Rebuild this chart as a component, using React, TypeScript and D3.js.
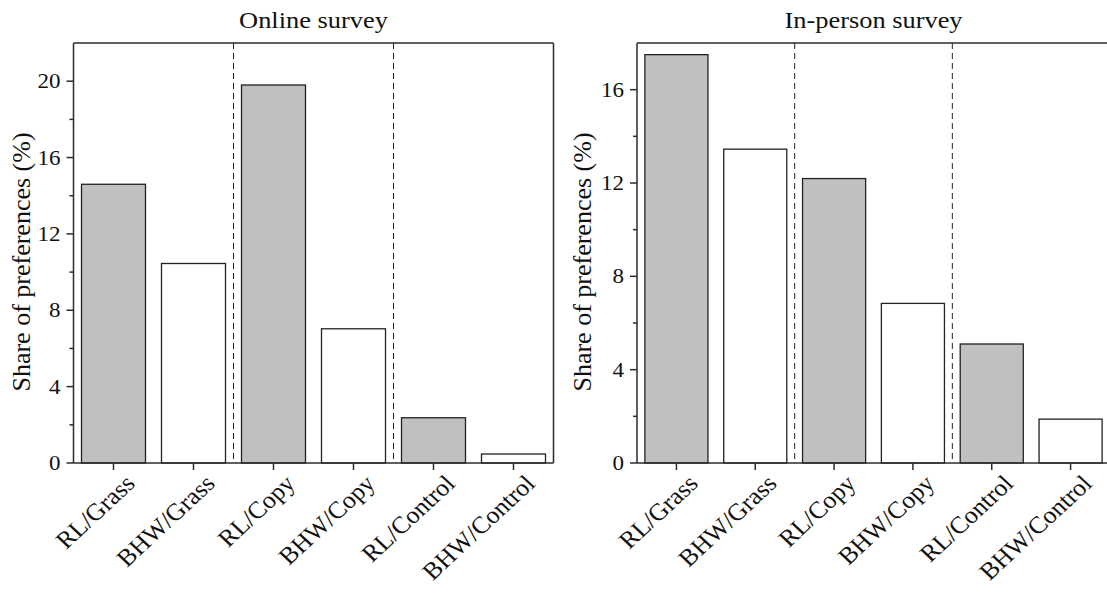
import React from "react";
import * as d3 from "d3";

const categories = ["RL/Grass", "BHW/Grass", "RL/Copy", "BHW/Copy", "RL/Control", "BHW/Control"];
const onlineValues = [14.6, 10.45, 19.8, 7.03, 2.37, 0.47];
const inPersonValues = [17.5, 13.45, 12.19, 6.84, 5.1, 1.88];
const onlineTicks = [0, 4, 8, 12, 16, 20];
const onlineMinor = [2, 6, 10, 14, 18];
const inPersonTicks = [0, 4, 8, 12, 16];
const inPersonMinor = [2, 6, 10, 14];

const FONT = "'Liberation Serif', 'Times New Roman', Times, serif";
const AXIS = "#2b2b2b";
const STRETCH = 1.15;

type PanelProps = {
  title: string;
  values: number[];
  max: number;
  ticks: number[];
  minor: number[];
  x0: number;
  x1: number;
  labelX: number;
};

const TOP = 43;
const BOTTOM = 463;

function Panel({ title, values, max, ticks, minor, x0, x1, labelX }: PanelProps) {
  const x = d3.scaleBand<string>().domain(categories).range([x0, x1]).paddingInner(0.2).paddingOuter(0.1);
  const xb = d3.scaleBand<string>().domain(categories).range([x0, x1]).padding(0);
  const y = d3.scaleLinear().domain([0, max]).range([BOTTOM, TOP]);
  const dividers = [2, 4].map((i) => x0 + xb.step() * i);
  return (
    <g>
      <text
        transform={`translate(${(x0 + x1) / 2},28) scale(1.1,1)`}
        textAnchor="middle"
        fontFamily={FONT}
        fontSize={24}
        fill="#111"
      >
        {title}
      </text>
      {dividers.map((d, i) => (
        <line key={"dv" + i} x1={d} x2={d} y1={TOP} y2={BOTTOM} stroke="#222" strokeWidth={1} strokeDasharray="6,4" />
      ))}
      {values.map((v, i) => (
        <rect
          key={categories[i]}
          x={x(categories[i])}
          y={y(v)}
          width={x.bandwidth()}
          height={BOTTOM - y(v)}
          fill={i % 2 === 0 ? "#c0c0c0" : "#ffffff"}
          stroke="#222"
          strokeWidth={1.3}
        />
      ))}
      <line x1={x0} x2={x1} y1={TOP} y2={TOP} stroke={AXIS} strokeWidth={1.5} />
      <line x1={x1} x2={x1} y1={TOP} y2={BOTTOM} stroke={AXIS} strokeWidth={1.5} />
      <line x1={x0} x2={x0} y1={TOP} y2={BOTTOM} stroke={AXIS} strokeWidth={1.5} />
      <line x1={x0} x2={x1} y1={BOTTOM} y2={BOTTOM} stroke={AXIS} strokeWidth={1.5} />
      {ticks.map((t) => (
        <g key={"t" + t}>
          <line x1={x0 - 7} x2={x0} y1={y(t)} y2={y(t)} stroke={AXIS} strokeWidth={1.5} />
          <text
            transform={`translate(${x0 - 13},${y(t)}) scale(${STRETCH},1)`}
            dy="0.35em"
            textAnchor="end"
            fontFamily={FONT}
            fontSize={20}
            fill="#111"
          >
            {t}
          </text>
        </g>
      ))}
      {minor.map((t) => (
        <line key={"m" + t} x1={x0 - 4} x2={x0} y1={y(t)} y2={y(t)} stroke={AXIS} strokeWidth={1.5} />
      ))}
      {categories.map((c) => {
        const cx = xb(c)! + xb.bandwidth() / 2;
        return (
          <g key={"x" + c}>
            <line x1={cx} x2={cx} y1={BOTTOM} y2={BOTTOM + 7} stroke={AXIS} strokeWidth={1.5} />
            <text
              transform={`translate(${cx + 23},${BOTTOM + 22}) scale(1.08,1) rotate(-45)`}
              textAnchor="end"
              fontFamily={FONT}
              fontSize={24}
              fill="#111"
            >
              {c}
            </text>
          </g>
        );
      })}
      <text
        transform={`translate(${labelX},262) rotate(-90)`}
        textAnchor="middle"
        fontFamily={FONT}
        fontSize={26}
        fill="#111"
      >
        Share of preferences (%)
      </text>
    </g>
  );
}

export default function App() {
  return (
    <svg width={1107} height={593} style={{ position: "absolute", left: 0, top: 0, background: "#fff" }}>
      <rect width={1107} height={593} fill="#fff" />
      <Panel
        title="Online survey"
        values={onlineValues}
        max={22}
        ticks={onlineTicks}
        minor={onlineMinor}
        x0={73.5}
        x1={553.5}
        labelX={30}
      />
      <Panel
        title="In-person survey"
        values={inPersonValues}
        max={18}
        ticks={inPersonTicks}
        minor={inPersonMinor}
        x0={637}
        x1={1110}
        labelX={591}
      />
    </svg>
  );
}
